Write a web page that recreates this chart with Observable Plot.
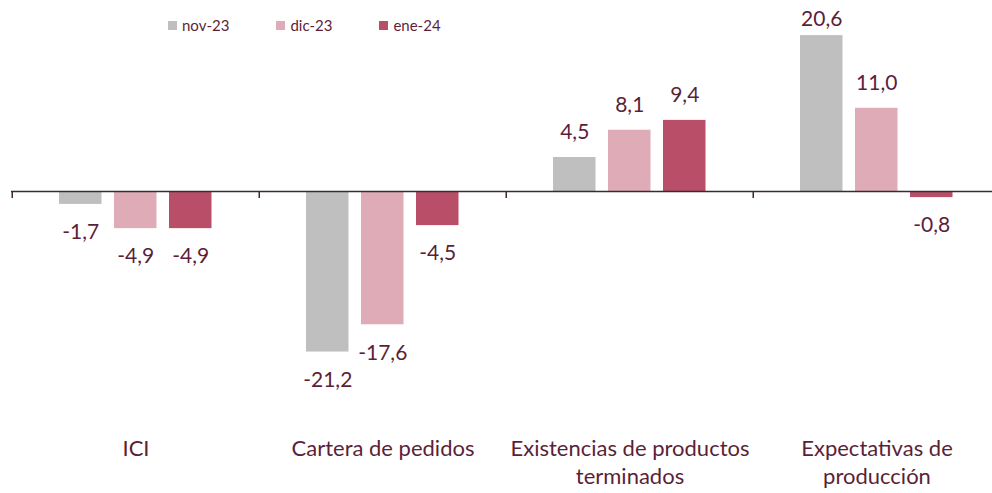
<!DOCTYPE html>
<html><head><meta charset="utf-8">
<script src="https://cdn.jsdelivr.net/npm/d3@7"></script>
<script src="https://cdn.jsdelivr.net/npm/@observablehq/plot@0.6"></script>
<style>
html,body{margin:0;padding:0;background:#fff;overflow:hidden;}
#wrap{position:relative;width:992px;height:493px;}
#legend{position:absolute;top:16px;left:168px;display:flex;font-family:Lato,sans-serif;font-size:15px;line-height:18px;color:#5c1f38;}
.item{display:flex;align-items:center;margin-right:47px;}
.sw{width:9px;height:9px;margin-right:5px;}
</style></head><body><div id="wrap"><div id="legend"></div></div>
<script>
const categories = ["ICI", "Cartera de pedidos", "Existencias de productos terminados", "Expectativas de producción"];
const categoryLabels = ["ICI", "Cartera de pedidos", "Existencias de productos\nterminados", "Expectativas de\nproducción"];
const series = ["nov-23", "dic-23", "ene-24"];
const nov23 = [-1.7, -21.2, 4.5, 20.6];
const dic23 = [-4.9, -17.6, 8.1, 11.0];
const ene24 = [-4.9, -4.5, 9.4, -0.8];
const seriesValues = [nov23, dic23, ene24];
const colors = ["#bfbfbf", "#deabb6", "#b94e69"];

const textColor = "#5c1f38";
const axisColor = "#3b2a32";
const fmt = v => v.toFixed(1).replace(".", ",");
const labelMax = 19.4; // labels of taller bars are kept inside the plot area

// legend
const legend = document.getElementById("legend");
series.forEach((s, i) => {
  const it = document.createElement("div"); it.className = "item";
  const sw = document.createElement("div"); sw.className = "sw"; sw.style.background = colors[i];
  const t = document.createElement("span"); t.textContent = s;
  it.appendChild(sw); it.appendChild(t); legend.appendChild(it);
});

const bandStart = 11, bandEnd = 1001;
const bw = (bandEnd - bandStart) / categories.length;
const barOffset = 47, barStep = 55, barWidth = 43;

const marks = [];
seriesValues.forEach((vals, i) => {
  const data = categories.map((c, j) => ({cat: c, v: vals[j]}));
  const left = barOffset + barStep * i;
  marks.push(Plot.barY(data, {x: "cat", y: "v", fill: colors[i], insetLeft: left, insetRight: bw - left - barWidth}));
  const dx = left + barWidth / 2 - bw / 2;
  marks.push(Plot.text(data.filter(d => d.v >= 0), {x: "cat", y: d => Math.min(d.v, labelMax), text: d => fmt(d.v), dx, dy: -25, fill: textColor, fontSize: 21}));
  marks.push(Plot.text(data.filter(d => d.v < 0), {x: "cat", y: "v", text: d => fmt(d.v), dx, dy: 28, fill: textColor, fontSize: 21}));
});
marks.push(Plot.ruleY([0], {stroke: axisColor, strokeWidth: 1.5}));
marks.push(Plot.ruleX(categories, {x: d => d, dx: -bw / 2, y1: 0, y2: -0.92, stroke: axisColor, strokeWidth: 1.5}));
marks.push(Plot.axisX({anchor: "bottom", tickSize: 0, tickPadding: 0, fontSize: 22, lineHeight: 1.25, fill: textColor,
  tickFormat: d => categoryLabels[categories.indexOf(d)]}));

const plot = Plot.plot({
  width: 992, height: 493,
  marginLeft: 11, marginRight: 0, marginTop: 0, marginBottom: 57,
  x: {domain: categories, range: [bandStart, bandEnd], padding: 0, label: null},
  y: {domain: [-25, 22], range: [380.3, 24.5], axis: null},
  style: {fontFamily: "Lato, sans-serif", fontSize: "20px", background: "#fff", overflow: "visible"},
  marks
});
document.getElementById("wrap").appendChild(plot);
</script></body></html>
